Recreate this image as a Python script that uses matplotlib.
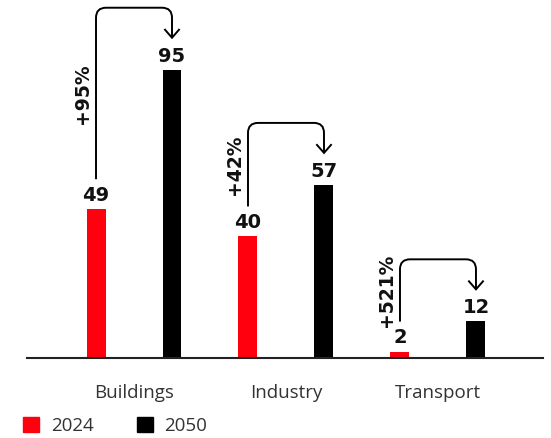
import numpy as np
import matplotlib as mpl
mpl.use('Agg')
import matplotlib.pyplot as plt
from matplotlib.path import Path
from matplotlib.patches import PathPatch, Patch

### data
categories = ['Buildings', 'Industry', 'Transport']
years = ['2024', '2050']
vals_2024 = [49, 40, 2]
vals_2050 = [95, 57, 12]
growth = ['+95%', '+42%', '+521%']

red = '#ff000f'
blk = '#000000'

fig = plt.figure(figsize=(5.51, 4.38), dpi=100)
ax = fig.add_axes([26.7/551, 80.3/438, 516.3/551, 357.7/438])

x = np.arange(len(categories))
off = 0.25
w = 0.125
b1 = ax.bar(x - off, vals_2024, w, color=red)
b2 = ax.bar(x + off, vals_2050, w, color=blk)

ax.set_xlim(-0.706, 2.691)
ax.set_ylim(0, 118)

for bb in (b1, b2):
    ax.bar_label(bb, padding=3, fontsize=14, fontweight='bold', color='#111111')

### spines / ticks
for s in ['top', 'right', 'left']:
    ax.spines[s].set_visible(False)
ax.spines['bottom'].set_linewidth(1.5)
ax.spines['bottom'].set_color('#222222')
ax.set_yticks([])
ax.set_xticks(x)
ax.set_xticklabels(categories, fontsize=13.5, color='#333333', family='Open Sans')
ax.tick_params(axis='x', length=0, pad=19)

### growth arrows (pixel offsets converted to data units)
px_x = 1/152.
px_y = 118/357.7
r = 10  # corner radius in px
for i in range(len(categories)):
    x0 = x[i] - off
    x1 = x[i] + off
    ybot = vals_2024[i] + 30*px_y
    ytop = vals_2050[i] + 62*px_y
    ytip = vals_2050[i] + 32*px_y
    verts = [(x0, ybot), (x0, ytop - r*px_y), (x0, ytop), (x0 + r*px_x, ytop),
             (x1 - r*px_x, ytop), (x1, ytop), (x1, ytop - r*px_y), (x1, ytip)]
    codes = [Path.MOVETO, Path.LINETO, Path.CURVE3, Path.CURVE3,
             Path.LINETO, Path.CURVE3, Path.CURVE3, Path.LINETO]
    ax.add_patch(PathPatch(Path(verts, codes), fill=False, lw=1.4, color=blk,
                           clip_on=False))
    ax.plot([x1 - 7*px_x, x1, x1 + 7*px_x], [ytip + 8*px_y, ytip, ytip + 8*px_y],
            color=blk, lw=1.4, clip_on=False, solid_joinstyle='miter')
    ax.annotate(growth[i], xy=(x0, (ybot + ytop)/2), xytext=(-9.5, 0),
                textcoords='offset points', rotation=90, ha='center', va='center',
                fontsize=13.5, fontweight='bold', color='#111111')

### legend
hs = [Patch(color=red), Patch(color=blk)]
fig.legend(hs, years, loc='center left', bbox_to_anchor=(23/551, 12/438),
           ncol=2, frameon=False, handlelength=0.86, handleheight=0.86,
           handletextpad=0.62, columnspacing=2.3, borderpad=0, borderaxespad=0,
           prop={'family': 'Open Sans', 'size': 13.5})
for t in fig.legends[0].get_texts():
    t.set_color('#333333')

fig.savefig('out.png', dpi=100)
plt.close()
